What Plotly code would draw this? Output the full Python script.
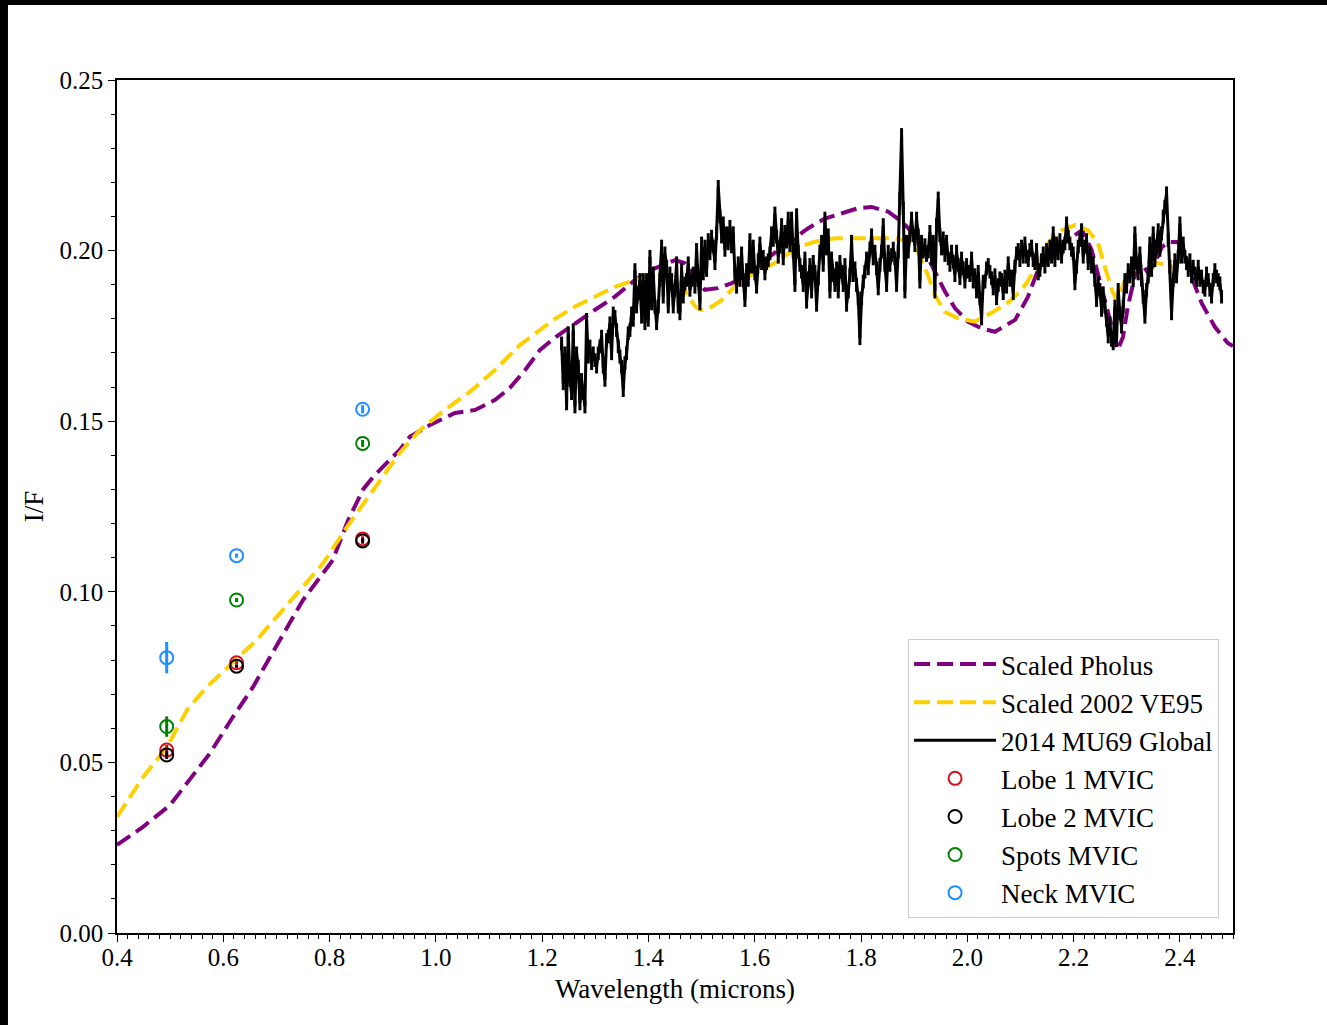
import numpy as np
import plotly.graph_objects as go

# ---------------- data ----------------
pholus_w = [0.40, 0.449, 0.50, 0.537, 0.575, 0.618, 0.656, 0.688, 0.72, 0.75, 0.788, 0.806, 0.835, 0.863,
            0.882, 0.908, 0.932, 0.951, 0.989, 1.036, 1.074, 1.111, 1.139, 1.168, 1.196, 1.224, 1.262, 1.299,
            1.337, 1.375, 1.412, 1.45, 1.469, 1.488, 1.506, 1.531, 1.556, 1.582, 1.607, 1.632, 1.676, 1.70,
            1.732, 1.764, 1.794, 1.82, 1.851, 1.877, 1.901, 1.92, 1.939, 1.958, 1.977, 2.001, 2.027, 2.052,
            2.09, 2.114, 2.133, 2.159, 2.189, 2.216, 2.234, 2.246, 2.259, 2.272, 2.283, 2.293, 2.302, 2.315,
            2.328, 2.34, 2.352, 2.366, 2.378, 2.396, 2.409, 2.422, 2.441, 2.466, 2.49, 2.50]
pholus_v = [0.0258, 0.0311, 0.0375, 0.0448, 0.0527, 0.0633, 0.0721, 0.0809, 0.0897, 0.0976, 0.1055, 0.1093,
            0.1210, 0.1300, 0.1337, 0.1377, 0.1416, 0.1454, 0.1489, 0.1524, 0.1533, 0.1562, 0.1597, 0.1650,
            0.1709, 0.1745, 0.1787, 0.1826, 0.1865, 0.1914, 0.1948, 0.1972, 0.1963, 0.1924, 0.1885, 0.1890,
            0.1904, 0.1924, 0.1953, 0.1987, 0.2036, 0.2065, 0.2094, 0.2110, 0.2124, 0.2128, 0.2114, 0.2085,
            0.2046, 0.1997, 0.1938, 0.1880, 0.1831, 0.1792, 0.1772, 0.1762, 0.1797, 0.1864, 0.1943, 0.1993,
            0.2031, 0.2060, 0.2002, 0.1934, 0.1855, 0.1776, 0.1709, 0.1747, 0.1835, 0.1923, 0.1963, 0.1935,
            0.1960, 0.2010, 0.2025, 0.2025, 0.1993, 0.1923, 0.1846, 0.1776, 0.1729, 0.1720]

ve95_w = [0.40, 0.449, 0.494, 0.532, 0.569, 0.618, 0.663, 0.712, 0.757, 0.788, 0.835, 0.87, 0.90, 0.932,
          0.97, 1.017, 1.064, 1.111, 1.158, 1.196, 1.224, 1.262, 1.299, 1.337, 1.375, 1.412, 1.437, 1.456,
          1.472, 1.488, 1.50, 1.519, 1.538, 1.556, 1.575, 1.60, 1.626, 1.648, 1.676, 1.713, 1.751, 1.789,
          1.826, 1.864, 1.888, 1.907, 1.926, 1.939, 1.958, 1.982, 2.014, 2.046, 2.076, 2.103, 2.127, 2.152,
          2.178, 2.203, 2.227, 2.246, 2.259, 2.272, 2.281, 2.291, 2.303, 2.321, 2.34, 2.366, 2.385, 2.395]
ve95_v = [0.0340, 0.0457, 0.0545, 0.0654, 0.0721, 0.0791, 0.0859, 0.0947, 0.1026, 0.1084, 0.1195, 0.1270,
          0.1335, 0.1407, 0.1474, 0.1533, 0.1586, 0.1650, 0.1723, 0.1767, 0.1800, 0.1836, 0.1865, 0.1894,
          0.1914, 0.1929, 0.1933, 0.1914, 0.1875, 0.1836, 0.1826, 0.1836, 0.1855, 0.1885, 0.1914, 0.1933,
          0.1953, 0.1972, 0.2007, 0.2026, 0.2036, 0.2036, 0.2036, 0.2036, 0.2026, 0.1997, 0.1928, 0.1870,
          0.1820, 0.1802, 0.1792, 0.1818, 0.1847, 0.1885, 0.1943, 0.2022, 0.2060, 0.2075, 0.2060, 0.2022,
          0.1952, 0.1885, 0.1855, 0.1890, 0.1943, 0.1970, 0.1970, 0.1960, 0.1952, 0.1950]

# 2014 MU69 global spectrum (I/F), sampled on the instrument's uniform wavelength grid
spec_start = 1.2366
spec_step = 0.003136
flux_a = [0.1728, 0.1611, 0.1699, 0.1552, 0.1758, 0.1621, 0.1582, 0.1767, 0.1543, 0.1699, 0.1660, 0.1552,
          0.1621, 0.1582, 0.1543, 0.1797, 0.1689, 0.1719, 0.1670, 0.1699, 0.1679, 0.1660, 0.1699, 0.1719,
          0.1748, 0.1660, 0.1621, 0.1738, 0.1748, 0.1787, 0.1699, 0.1816, 0.1806, 0.1767, 0.1719, 0.1689,
          0.1660, 0.1591, 0.1670, 0.1699, 0.1758, 0.1767, 0.1816, 0.1797, 0.1943, 0.1836, 0.1875, 0.1914,
          0.1806, 0.1914, 0.1787, 0.1914, 0.1797, 0.1982, 0.1845, 0.1933, 0.1836, 0.1787, 0.1836, 0.1914,
          0.2012, 0.1865, 0.1992, 0.1953, 0.1836, 0.1933, 0.1914, 0.1836, 0.1885, 0.1963, 0.1836, 0.1816,
          0.1943, 0.1865, 0.1904, 0.1914, 0.1963, 0.1885, 0.1914, 0.1933, 0.1894, 0.2002, 0.1914, 0.1845,
          0.2021, 0.1933, 0.2012, 0.1943, 0.2031, 0.1992, 0.2041, 0.2012, 0.1963, 0.2051, 0.2187, 0.2100,
          0.2041, 0.2080, 0.2002, 0.2051, 0.2021, 0.2070, 0.2012, 0.2051, 0.1933, 0.1894, 0.1963, 0.1914,
          0.1992, 0.1914, 0.1855, 0.1943, 0.1914, 0.2031, 0.1953, 0.2012, 0.1933, 0.1894, 0.1972, 0.2021,
          0.1963, 0.1982, 0.1933, 0.1963, 0.1972, 0.1992, 0.2051, 0.2031, 0.2109, 0.2041, 0.1982, 0.2012]
flux_b = [0.2075, 0.1977, 0.2055, 0.2026, 0.2094, 0.2016, 0.2094, 0.1997, 0.1899, 0.2104, 0.1997, 0.1958,
          0.1938, 0.1899, 0.1977, 0.1850, 0.1919, 0.1958, 0.1880, 0.1967, 0.1938, 0.1841, 0.1919, 0.1997,
          0.2026, 0.1958, 0.2094, 0.2006, 0.2045, 0.1880, 0.1977, 0.1928, 0.1899, 0.1948, 0.1880, 0.1967,
          0.1938, 0.1899, 0.1958, 0.1841, 0.1880, 0.1928, 0.2026, 0.1928, 0.1948, 0.1899, 0.1860, 0.1743,
          0.1860, 0.1909, 0.1938, 0.1977, 0.1948, 0.2006, 0.2045, 0.1977, 0.1997, 0.1948, 0.1889, 0.1958,
          0.1997, 0.2075, 0.1958, 0.1899, 0.1997, 0.1958, 0.1987, 0.2006, 0.1977, 0.1899, 0.1997, 0.2153,
          0.2339, 0.2124, 0.1880, 0.2026, 0.1997, 0.2045, 0.2094, 0.2045, 0.2016, 0.2094, 0.2045, 0.1909,
          0.2026, 0.1997, 0.2016, 0.1987, 0.1997, 0.2055, 0.1977, 0.2026, 0.1880, 0.2075, 0.2153, 0.2045,
          0.2006, 0.2036, 0.1987, 0.2026, 0.1977, 0.1958, 0.1997, 0.1967, 0.1928, 0.1997, 0.1958, 0.1919,
          0.1977, 0.1948, 0.1909, 0.1958, 0.1938, 0.1928, 0.1977, 0.1909, 0.1928, 0.1880, 0.1938, 0.1860,
          0.1801, 0.1909, 0.1909, 0.1948, 0.1958, 0.1938, 0.1919, 0.1889, 0.1928, 0.1860, 0.1899, 0.1919]
flux_c = [0.1914, 0.1875, 0.1924, 0.1894, 0.1963, 0.1914, 0.1924, 0.1875, 0.1953, 0.1992, 0.2002, 0.1972,
          0.2012, 0.1982, 0.2021, 0.1982, 0.1972, 0.2002, 0.2012, 0.1972, 0.1963, 0.2002, 0.1933, 0.1943,
          0.1972, 0.1992, 0.1953, 0.2002, 0.1972, 0.2012, 0.1982, 0.2051, 0.1972, 0.2021, 0.1992, 0.2031,
          0.1982, 0.2012, 0.2021, 0.2080, 0.2041, 0.2021, 0.2002, 0.1992, 0.1904, 0.1953, 0.2012, 0.2031,
          0.2060, 0.1982, 0.2012, 0.2031, 0.1963, 0.1992, 0.1953, 0.1963, 0.1914, 0.1855, 0.1904, 0.1885,
          0.1826, 0.1875, 0.1836, 0.1797, 0.1748, 0.1787, 0.1738, 0.1728, 0.1836, 0.1738, 0.1885, 0.1816,
          0.1777, 0.1836, 0.1914, 0.1894, 0.1943, 0.1924, 0.1963, 0.1914, 0.2051, 0.1963, 0.1933, 0.1992,
          0.1914, 0.1865, 0.1806, 0.1885, 0.1924, 0.2021, 0.1943, 0.2051, 0.1972, 0.2012, 0.2060, 0.2002,
          0.2051, 0.2100, 0.2129, 0.2168, 0.2031, 0.1953, 0.1816, 0.1914, 0.1972, 0.1924, 0.1982, 0.2080,
          0.1982, 0.2021, 0.1982, 0.1963, 0.1943, 0.1972, 0.1924, 0.1953, 0.1933, 0.1914, 0.1953, 0.1914,
          0.1924, 0.1894, 0.1885, 0.1933, 0.1914, 0.1885, 0.1865, 0.1914, 0.1943, 0.1924, 0.1914, 0.1904,
          0.1865]
spec_err = 0.002

# MVIC colour points
mvic_w = [0.4935, 0.6250, 0.8622]
lobe1_v = [0.0536, 0.0792, 0.1155]
lobe1_e = [0.0015, 0.0005, 0.0008]
lobe2_v = [0.0522, 0.0782, 0.1149]
lobe2_e = [0.0012, 0.0005, 0.0008]
spots_v = [0.0605, 0.0976, 0.1435]
spots_e = [0.0030, 0.0006, 0.0010]
neck_v = [0.0807, 0.1106, 0.1535]
neck_e = [0.0046, 0.0006, 0.0012]

x_ticks = [0.4, 0.6, 0.8, 1.0, 1.2, 1.4, 1.6, 1.8, 2.0, 2.2, 2.4]
y_ticks = [0.00, 0.05, 0.10, 0.15, 0.20, 0.25]

# ---------------- figure ----------------
flux = flux_a + flux_b + flux_c
wave = spec_start + spec_step * np.arange(len(flux))

FONT = "Liberation Serif, Times New Roman, serif"
fig = go.Figure()

fig.add_trace(go.Scatter(x=pholus_w, y=pholus_v, mode="lines", name="Scaled Pholus",
                         line=dict(color="#800080", width=4, dash="16px,7px"), legendgroup="a"))
fig.add_trace(go.Scatter(x=ve95_w, y=ve95_v, mode="lines", name="Scaled 2002 VE95",
                         line=dict(color="#FFD000", width=4, dash="16px,7px"), legendgroup="b"))
fig.add_trace(go.Scatter(x=wave, y=flux, mode="lines", name="2014 MU69 Global",
                         line=dict(color="black", width=3),
                         error_y=dict(type="constant", value=spec_err, color="black", thickness=3, width=0),
                         legendgroup="c"))

for name, vals, errs, col, grp in [
    ("Lobe 1 MVIC", lobe1_v, lobe1_e, "#d6101e", "d"),
    ("Lobe 2 MVIC", lobe2_v, lobe2_e, "black", "e"),
    ("Spots MVIC", spots_v, spots_e, "#008000", "f"),
    ("Neck MVIC", neck_v, neck_e, "#1E90FF", "g"),
]:
    fig.add_trace(go.Scatter(x=mvic_w, y=vals, mode="markers", name=name, legendgroup=grp,
                             marker=dict(symbol="circle-open", size=13, color=col, line=dict(width=2, color=col)),
                             error_y=dict(type="data", array=errs, color=col, thickness=3, width=0)))

axis_common = dict(showgrid=False, zeroline=False, showline=True, linecolor="black", linewidth=1.5,
                   mirror=True, ticks="outside", ticklen=7, tickwidth=1.2, tickcolor="black",
                   tickfont=dict(family=FONT, size=25, color="black"))

fig.update_xaxes(range=[0.4, 2.5], tickvals=x_ticks, ticktext=[f"{t:.1f}" for t in x_ticks],
                 ticklabelstandoff=-6,
                 minor=dict(dtick=0.02, tick0=0.4, ticks="outside", ticklen=4, tickcolor="black", tickwidth=1),
                 title=dict(text="Wavelength (microns)", font=dict(family=FONT, size=27, color="black"), standoff=9),
                 **axis_common)
fig.update_yaxes(range=[0, 0.25], tickvals=y_ticks, ticktext=[f"{t:.2f}" for t in y_ticks],
                 minor=dict(dtick=0.01, tick0=0, ticks="outside", ticklen=4, tickcolor="black", tickwidth=1),
                 title=dict(text="I/F", font=dict(family=FONT, size=27, color="black"), standoff=8),
                 **axis_common)

fig.update_layout(
    width=1327, height=1025,
    margin=dict(l=117, r=94, t=80, b=92),
    paper_bgcolor="white", plot_bgcolor="white",
    font=dict(family=FONT, color="black"),
    legend=dict(x=0.9875, xanchor="right", y=0.0176, yanchor="bottom",
                bgcolor="white", bordercolor="#cccccc", borderwidth=1,
                font=dict(family=FONT, size=27, color="black"),
                tracegroupgap=0, itemwidth=82),
    shapes=[
        dict(type="rect", xref="paper", yref="paper", x0=-0.11, x1=-0.0977, y0=-0.2, y1=1.2,
             fillcolor="black", line=dict(width=0), layer="above"),
        dict(type="rect", xref="paper", yref="paper", x0=-0.2, x1=1.2, y0=1.0879, y1=1.2,
             fillcolor="black", line=dict(width=0), layer="above"),
    ],
)

fig.write_html("out.html")
